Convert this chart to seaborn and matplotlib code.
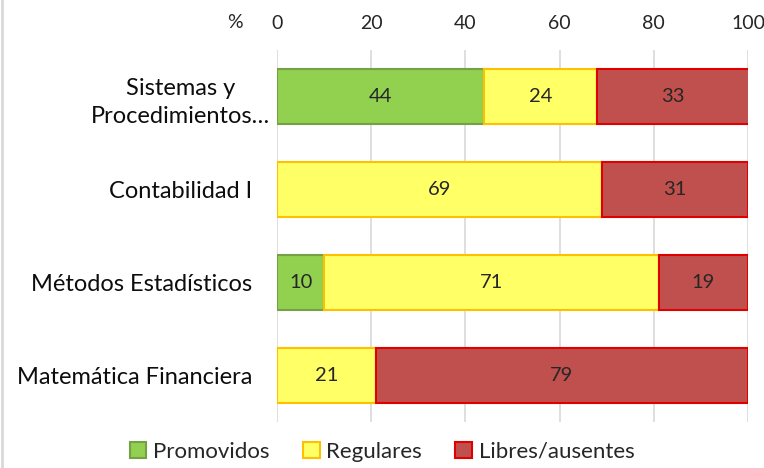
import pandas as pd
import numpy as np
import matplotlib
matplotlib.use("Agg")
import matplotlib.pyplot as plt
import matplotlib.transforms as mtransforms
import seaborn as sns
from matplotlib.patches import Patch
from matplotlib.lines import Line2D

# data
materias = ["Sistemas y\nProcedimientos…", "Contabilidad I",
            "Métodos Estadísticos", "Matemática Financiera"]
promovidos = [44, 0, 10, 0]
regulares = [24, 69, 71, 21]
libres = [33, 31, 19, 79]
ticks = [0, 20, 40, 60, 80, 100]

series = ["Promovidos", "Regulares", "Libres/ausentes"]
fills = {"Promovidos": "#92D050", "Regulares": "#FFFF66", "Libres/ausentes": "#C0504D"}
edges = {"Promovidos": "#76A046", "Regulares": "#FFC000", "Libres/ausentes": "#E00000"}

data = pd.DataFrame({"Materia": materias, "Promovidos": promovidos,
                     "Regulares": regulares, "Libres/ausentes": libres})

sns.set_style("white")
plt.rcParams["font.family"] = ["Lato", "DejaVu Sans"]

fig = plt.figure(figsize=(7.64, 4.68), dpi=100)
ax = fig.add_axes([277 / 764, 1 - 422 / 468, 471 / 764, 372 / 468])

left = np.zeros(len(materias))
for s in series:
    sns.barplot(data=data, y="Materia", x=s, orient="y", ax=ax,
                color=fills[s], edgecolor=edges[s], linewidth=1.5,
                width=0.59, left=left.copy(), saturation=1, zorder=3)
    cont = ax.containers[-1]
    labels = [str(v) if v > 0 else "" for v in data[s]]
    ax.bar_label(cont, labels=labels, label_type="center", fontsize=14.5, color="#262626")
    left = left + data[s].values

# hide zero-width segments
for p in ax.patches:
    if p.get_width() == 0:
        p.set_visible(False)

ax.set_xlim(0, 100)
ax.set_ylim(3.5, -0.5)
ax.set_xticks(ticks)
ax.xaxis.tick_top()
ax.tick_params(axis="x", length=0, pad=13, labelsize=14, labelcolor="#262626")
ax.tick_params(axis="y", length=0, pad=18, labelsize=17, labelcolor="#0D0D0D")
ylabs = ax.get_yticklabels()
for lab in ylabs:
    lab.set_multialignment("center")
ylabs[0].set_linespacing(1.45)
ylabs[0].set_transform(ylabs[0].get_transform() +
                       mtransforms.ScaledTranslation(18 / 100, 0, fig.dpi_scale_trans))
ax.grid(axis="x", color="#D9D9D9", linewidth=1.2, zorder=0)
ax.set_axisbelow(True)
ax.set_xlabel("")
ax.set_ylabel("")
sns.despine(ax=ax, left=True, bottom=True, top=True, right=True)

fig.text(235 / 764, 1 - 22 / 468, "%", ha="center", va="center", fontsize=14, color="#262626")

handles = [Patch(facecolor=fills[s], edgecolor=edges[s], linewidth=1.5, label=s) for s in series]
fig.legend(handles=handles, loc="center", bbox_to_anchor=(0.5, 1 - 452 / 468), ncol=3,
           frameon=False, fontsize=16, handlelength=0.75, handleheight=0.75,
           handletextpad=0.3, columnspacing=1.5)

# thin chart border on the left edge
fig.add_artist(Line2D([0.003, 0.003], [0, 1], transform=fig.transFigure,
                      color="#D9D9D9", linewidth=2))

fig.savefig("out.png", dpi=100)
